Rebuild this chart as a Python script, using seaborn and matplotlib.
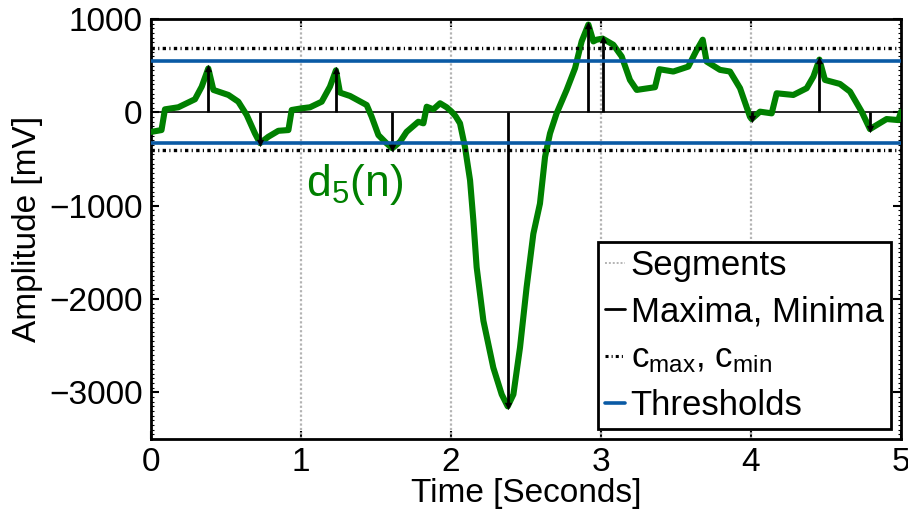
import numpy as np
import pandas as pd
import matplotlib
matplotlib.use("Agg")
import matplotlib.pyplot as plt
from matplotlib.ticker import MultipleLocator
from matplotlib.lines import Line2D
import seaborn as sns

# Detail coefficient d5(n) sampled over the 5 s record
time_s = [0.000, 0.070, 0.093, 0.182, 0.293, 0.338, 0.382, 0.416, 0.516, 0.582,
          0.638, 0.693, 0.727, 0.782, 0.849, 0.916, 0.938, 1.004, 1.060, 1.138,
          1.193, 1.233, 1.260, 1.327, 1.438, 1.471, 1.516, 1.571, 1.609, 1.660,
          1.704, 1.782, 1.816, 1.838, 1.882, 1.927, 1.971, 2.004, 2.030, 2.060,
          2.093, 2.127, 2.149, 2.171, 2.216, 2.282, 2.338, 2.378, 2.416, 2.460,
          2.504, 2.549, 2.593, 2.627, 2.660, 2.704, 2.771, 2.827, 2.871, 2.916,
          2.949, 2.971, 3.011, 3.082, 3.138, 3.193, 3.238, 3.360, 3.389, 3.482,
          3.582, 3.633, 3.678, 3.704, 3.793, 3.860, 3.927, 3.993, 4.004, 4.060,
          4.138, 4.171, 4.282, 4.371, 4.416, 4.456, 4.493, 4.593, 4.660, 4.738,
          4.793, 4.838, 4.904, 4.982, 5.000]
amplitude_mv = [-210, -190, 32, 54, 140, 275, 470, 240, 186, 114,
                -29, -226, -330, -262, -198, -190, 25, 43, 54, 114,
                275, 450, 211, 175, 78, -47, -244, -333, -385, -316,
                -209, -101, -118, 60, 32, 97, 54, 7, -40, -118,
                -370, -728, -1158, -1660, -2233, -2735, -3022, -3150, -3022, -2520,
                -1875, -1301, -978, -477, -226, -11, 240, 473, 760, 940,
                760, 778, 790, 724, 598, 347, 240, 269, 462, 437,
                490, 652, 778, 544, 455, 437, 258, -47, -72, 7,
                -11, 204, 186, 258, 383, 565, 347, 304, 222, 6,
                -180, -136, -72, -83, 6]

# Detected extrema
maxima_t = [0.382, 1.233, 2.916, 3.011, 4.456]
maxima_v = [470, 450, 940, 790, 565]
minima_t = [0.727, 1.609, 2.378, 4.004, 4.793]
minima_v = [-330, -385, -3150, -72, -180]

# Segment boundaries, envelope constants and thresholds
segments_t = [1, 2, 3, 4]
c_max, c_min = 690, -400
thr_upper, thr_lower = 550, -325

x_ticks = [0, 1, 2, 3, 4, 5]
y_ticks = [-3000, -2000, -1000, 0, 1000]

sns.set_style("ticks")
plt.rcParams["font.family"] = ["Liberation Sans", "DejaVu Sans"]
plt.rcParams["mathtext.fontset"] = "custom"
plt.rcParams["mathtext.rm"] = "Liberation Sans"
plt.rcParams["mathtext.it"] = "Liberation Sans"
plt.rcParams["mathtext.default"] = "rm"
for key in ("text.color", "axes.labelcolor", "xtick.color", "ytick.color"):
    plt.rcParams[key] = "black"

GREEN = "#008000"
BLUE = "#0a5aa5"
GREY = "#b4b4b4"
DASHDOT = (0, (1.0, 1.0, 0.35, 1.0))

fig = plt.figure(figsize=(9.08, 5.13), dpi=100)
ax = fig.add_axes([0.1663, 0.1442, 0.8260, 0.8188])

df = pd.DataFrame({"t": time_s, "v": amplitude_mv})

# segment boundaries
for s in segments_t:
    ax.axvline(s, color=GREY, lw=1.6, ls=(0, (1, 1)), zorder=1)
ax.axhline(0, color="black", lw=1.2, zorder=2)

sns.lineplot(data=df, x="t", y="v", color=GREEN, lw=4.4, ax=ax,
             zorder=3, estimator=None, sort=False,
             solid_joinstyle="round", solid_capstyle="round")

# stems to the extrema
ax.vlines(maxima_t, 0, maxima_v, color="black", lw=2.0, zorder=4)
ax.vlines(minima_t, 0, minima_v, color="black", lw=2.0, zorder=4)
ax.scatter(maxima_t, maxima_v, marker="^", s=28, color="black", zorder=5,
           linewidths=0)
ax.scatter(minima_t, minima_v, marker="v", s=28, color="black", zorder=5,
           linewidths=0)

for c in (c_max, c_min):
    ax.axhline(c, color="black", lw=2.4, ls=DASHDOT, zorder=4)
for th in (thr_upper, thr_lower):
    ax.axhline(th, color=BLUE, lw=2.6, zorder=4)

ax.text(1.03, -900, r"d$_5$(n)", color=GREEN, fontsize=32,
        ha="left", va="baseline")

ax.set_xlim(0, 5)
ax.set_ylim(-3500, 1000)
ax.set_xticks(x_ticks)
ax.set_yticks(y_ticks)
ax.set_xticklabels([str(v) for v in x_ticks])
ax.set_yticklabels([str(v).replace("-", "\u2212") for v in y_ticks])
ax.yaxis.set_minor_locator(MultipleLocator(50))
ax.tick_params(which="major", direction="in", length=6, width=1.5,
               labelsize=24, top=True, right=True, pad=6)
ax.tick_params(which="minor", axis="y", direction="in", length=2.5, width=0.8,
               left=True, right=True)
ax.tick_params(which="minor", axis="x", bottom=False, top=False)
for sp in ax.spines.values():
    sp.set_linewidth(2.0)
    sp.set_color("black")

ax.set_xlabel("Time [Seconds]", fontsize=24, labelpad=0)
ax.set_ylabel("Amplitude [mV]", fontsize=24, labelpad=4)

handles = [
    Line2D([], [], color=GREY, lw=1.4, ls=(0, (1, 1))),
    Line2D([], [], color="black", lw=2.0),
    Line2D([], [], color="black", lw=2.2, ls=DASHDOT),
    Line2D([], [], color=BLUE, lw=2.6),
]
labels = ["Segments", "Maxima, Minima",
          r"c$_{\mathrm{max}}$, c$_{\mathrm{min}}$", "Thresholds"]
leg = ax.legend(handles, labels, loc="lower right", fontsize=25,
                frameon=True, fancybox=False, handlelength=0.6,
                handletextpad=0.15, borderpad=0.2, labelspacing=0.38,
                borderaxespad=0.3)
leg.get_frame().set_edgecolor("black")
leg.get_frame().set_linewidth(2.0)
leg.get_frame().set_alpha(1)

fig.savefig("out.png", dpi=100)
